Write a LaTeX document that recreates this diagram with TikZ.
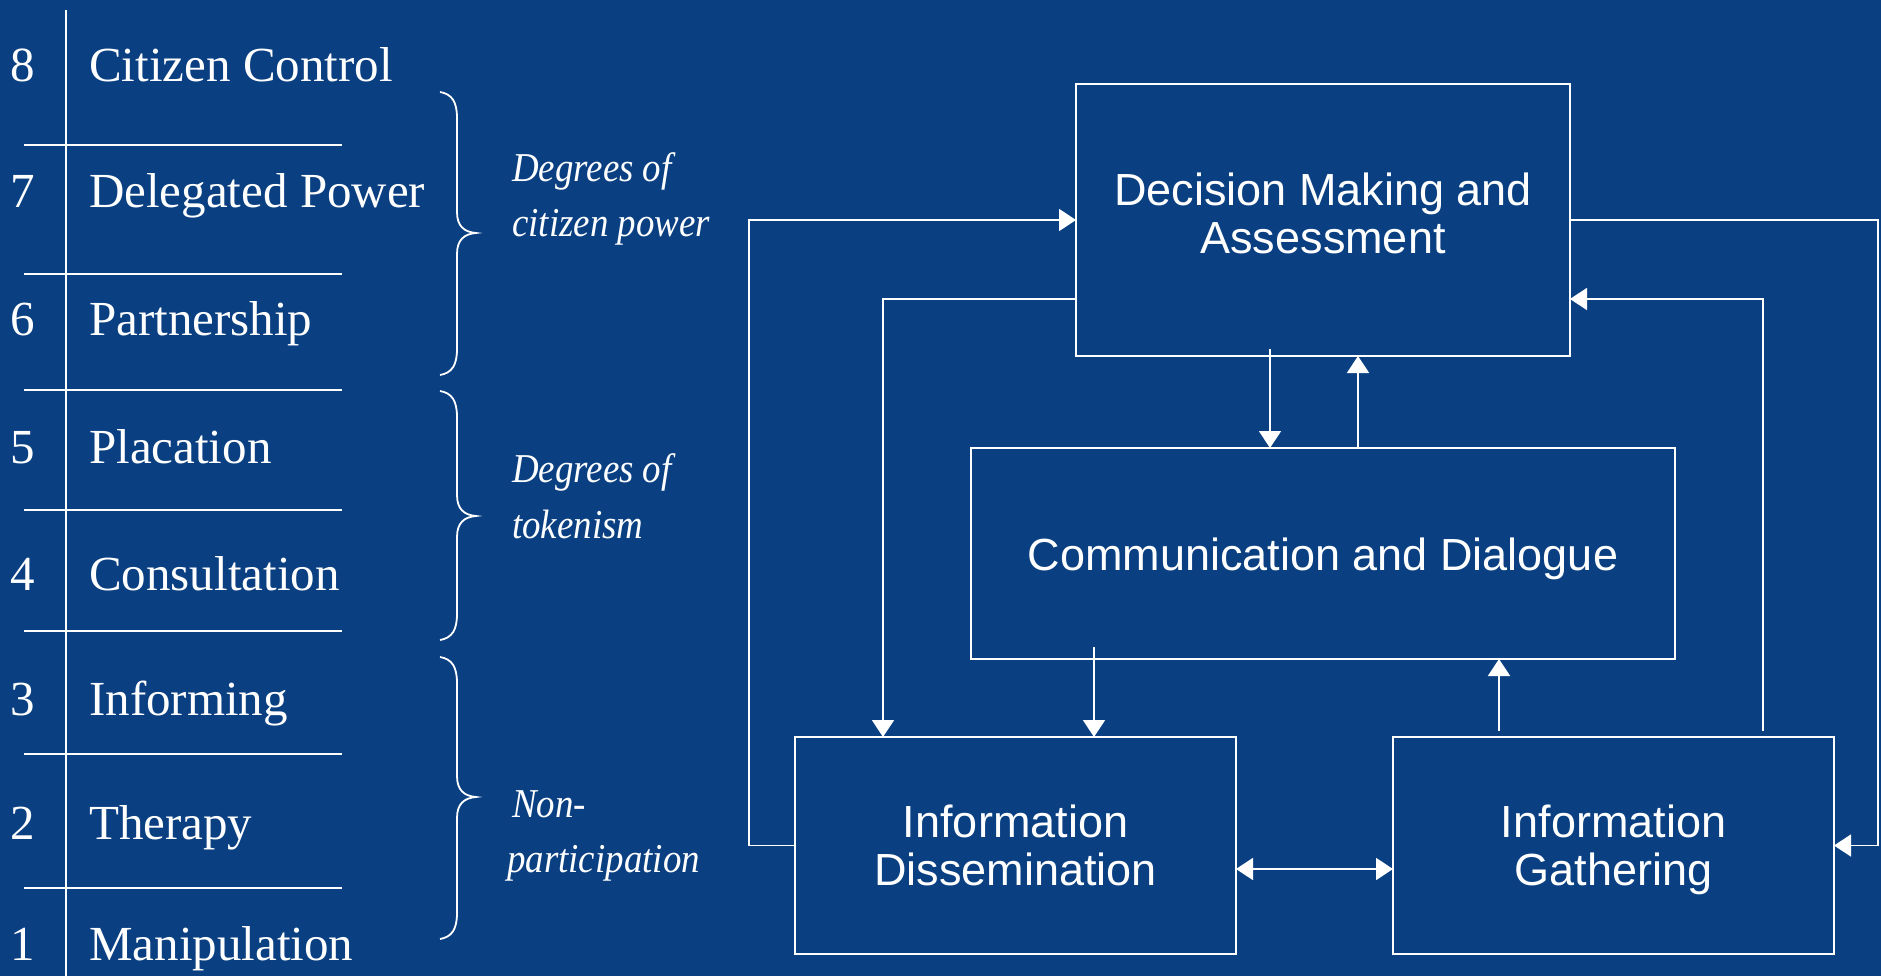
\documentclass[tikz,border=0pt]{standalone}
\usepackage{fontspec}
\setmainfont{Liberation Serif}
\newfontfamily\boxfont{Liberation Sans}
\newfontfamily\itfont[FakeStretch=0.9]{Liberation Serif}
\usetikzlibrary{arrows.meta}
\definecolor{bg}{RGB}{10,64,130}
\newcommand\mybrace[3]{%
  \draw[bracestyle] (440,#1) .. controls (452,#1+2) and (457,#1+10) .. (457,#1+26)
    -- (457,#2-21) .. controls (457,#2-7) and (464,#2-1) .. (476,#2)
    .. controls (464,#2+1) and (457,#2+7) .. (457,#2+21)
    -- (457,#3-26) .. controls (457,#3-10) and (452,#3-2) .. (440,#3);}
\begin{document}
\begin{tikzpicture}[x=1pt,y=-1pt,
  line/.style={white,line width=1.8pt},
  bracestyle/.style={white,line width=1.8pt},
  num/.style={white,anchor=base,font=\fontsize{49}{49}\selectfont,inner sep=0},
  rung/.style={white,anchor=base west,font=\fontsize{49}{49}\selectfont,inner sep=0},
  grp/.style={white,anchor=base west,font=\itfont\itshape\fontsize{41}{41}\selectfont,inner sep=0},
  box/.style={draw=white,line width=1.8pt,inner sep=0,outer sep=0},
  boxtext/.style={white,anchor=base,inner sep=0,font=\boxfont\fontsize{45}{45}\selectfont},
  arr/.style={white,line width=1.8pt,-{Triangle[length=17pt,width=22pt]}},
  arrb/.style={white,line width=1.8pt,{Triangle[length=17pt,width=22pt]}-{Triangle[length=17pt,width=22pt]}}]
\useasboundingbox (0,0) rectangle (1881,976);
\fill[bg] (0,0) rectangle (1881,976);

% ladder
\draw[line] (66,10) -- (66,976);
\foreach \y in {145,274,390,510,631,754,888}{
  \draw[line] (24,\y) -- (342,\y);
}
\node[num] (n8) at (23,82) {8};
\node[num] (n7) at (23,208) {7};
\node[num] (n6) at (23,335) {6};
\node[num] (n5) at (23,463) {5};
\node[num] (n4) at (23,590) {4};
\node[num] (n3) at (23,715) {3};
\node[num] (n2) at (23,839) {2};
\node[num] (n1) at (23,960) {1};
\node[rung] (r8) at (89,82) {Citizen Control};
\node[rung] (r7) at (89,208) {Delegated Power};
\node[rung] (r6) at (89,335) {Partnership};
\node[rung] (r5) at (89,463) {Placation};
\node[rung] (r4) at (89,590) {Consultation};
\node[rung] (r3) at (89,715) {Informing};
\node[rung] (r2) at (89,839) {Therapy};
\node[rung] (r1) at (89,960) {Manipulation};

% braces
\mybrace{92}{233}{375}
\mybrace{391}{516}{640}
\mybrace{657}{797}{939}

\node[grp] (g1a) at (512,182) {Degrees of};
\node[grp] (g1b) at (512,237) {citizen power};
\node[grp] (g2a) at (512,482) {Degrees of};
\node[grp] (g2b) at (512,538) {tokenism};
\node[grp] (g3a) at (512,817) {Non-};
\node[grp] (g3b) at (507,872) {participation};

% boxes
\node[box,minimum width=494pt,minimum height=272pt] (dm) at (1323,220) {};
\node[box,minimum width=704pt,minimum height=211pt] (cd) at (1323,553.5) {};
\node[box,minimum width=441pt,minimum height=217pt] (id) at (1015.5,845.5) {};
\node[box,minimum width=441pt,minimum height=217pt] (ig) at (1613.5,845.5) {};

\node[boxtext] (dm1) at (1323,206) {Decision Making and};
\node[boxtext] (dm2) at (1323,254) {Assessment};
\node[boxtext] (cd1) at (1323,570) {Communication and Dialogue};
\node[boxtext] (id1) at (1015.5,837) {Information};
\node[boxtext] (id2) at (1015.5,885.5) {Dissemination};
\node[boxtext] (ig1) at (1613.5,837) {Information};
\node[boxtext] (ig2) at (1613.5,885.5) {Gathering};

% connectors
\draw[arr] (id.west) -- ++(-46,0) |- (dm.west);
\draw[arr] ([yshift=-79pt]dm.west) -| ([xshift=-132.5pt]id.north);
\draw[arr] ([xshift=-53pt,yshift=7pt]dm.south) -- ([xshift=-53pt]cd.north);
\draw[arr] ([xshift=35pt]cd.north) -- ([xshift=35pt]dm.south);
\draw[arr] ([xshift=-229pt,yshift=12pt]cd.south) -- ([xshift=78.5pt]id.north);
\draw[arr] ([xshift=-114.5pt,yshift=6pt]ig.north) -- ([xshift=176pt]cd.south);
\draw[arr] ([xshift=149.5pt,yshift=6pt]ig.north) |- ([yshift=-79pt]dm.east);
\draw[arr] (dm.east) -- ++(308,0) |- (ig.east);
\draw[arrb] ([yshift=-23.5pt]id.east) -- ([yshift=-23.5pt]ig.west);
\end{tikzpicture}
\end{document}
